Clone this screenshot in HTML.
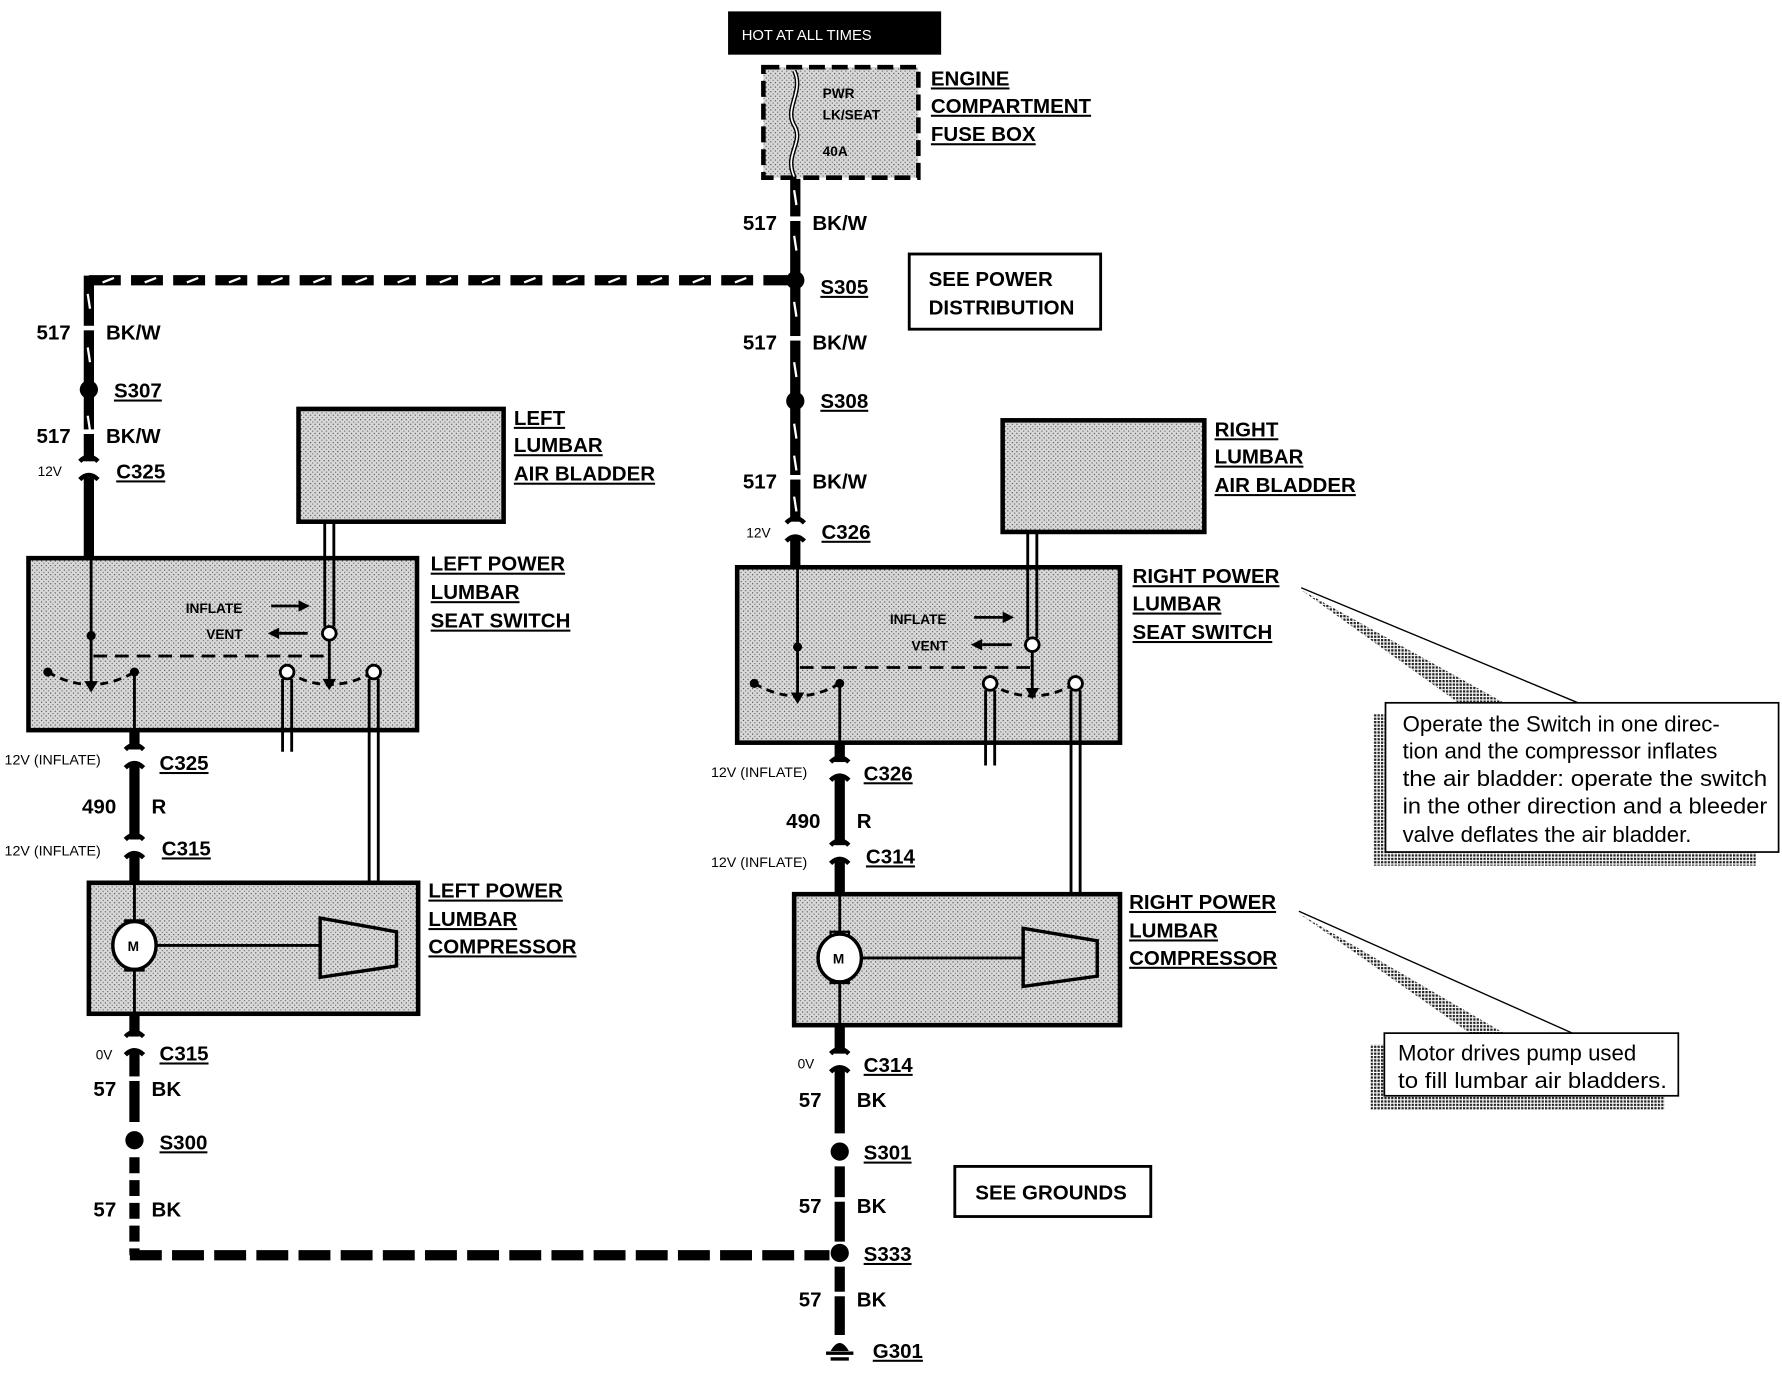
<!DOCTYPE html>
<html><head><meta charset="utf-8"><style>
html,body{margin:0;padding:0;background:#fff;}
svg{display:block;}
text{font-family:"Liberation Sans",Arial,sans-serif;}
.b{font-weight:bold;font-size:18px;}
.u{text-decoration:underline;}
.s{font-weight:bold;font-size:12px;}
.n{font-size:19.5px;}
</style></head><body>
<svg width="1782" height="1376" viewBox="0 0 1564 1208" preserveAspectRatio="none" xmlns="http://www.w3.org/2000/svg">
<defs>
<pattern id="g" width="4" height="4" patternUnits="userSpaceOnUse"><rect width="4" height="4" fill="#d8d8d8"/><rect width="1" height="1" fill="#444"/><rect x="2" y="2" width="1" height="1" fill="#666"/></pattern>
<pattern id="h" width="3" height="3" patternUnits="userSpaceOnUse"><rect width="3" height="3" fill="#fff"/><rect width="2" height="2" fill="#222"/></pattern>
<g id="conn"><path d="M-8,-8 Q0,-16 8,-8 M-8,8 Q0,0 8,8" fill="none" stroke="#000" stroke-width="4"/></g>
</defs>

<rect x="639" y="10" width="187" height="38" fill="#000"/>
<text x="651" y="35" fill="#fff" font-size="13">HOT AT ALL TIMES</text>

<rect x="670" y="59" width="136" height="97" fill="url(#g)" stroke="#000" stroke-width="4" stroke-dasharray="14 6"/>
<path d="M697,62 C706,80 688,95 697,110 C706,125 688,135 697,155" fill="none" stroke="#000" stroke-width="4"/>
<path d="M697,62 C706,80 688,95 697,110 C706,125 688,135 697,155" fill="none" stroke="#fff" stroke-width="1.5"/>
<text x="722" y="86" class="s">PWR</text><text x="722" y="105" class="s">LK/SEAT</text><text x="722" y="137" class="s">40A</text>
<text x="817" y="75" class="b u">ENGINE</text><text x="817" y="99" class="b u">COMPARTMENT</text><text x="817" y="124" class="b u">FUSE BOX</text>

<line x1="698" y1="157" x2="698" y2="497" stroke="#000" stroke-width="9"/>
<g stroke="#fff" stroke-width="2">
<line x1="697" y1="167" x2="699" y2="180"/><line x1="697" y1="207" x2="699" y2="220"/>
<line x1="697" y1="265" x2="699" y2="278"/><line x1="697" y1="318" x2="699" y2="331"/>
<line x1="697" y1="372" x2="699" y2="385"/><line x1="697" y1="400" x2="699" y2="413"/><line x1="697" y1="436" x2="699" y2="449"/>
</g>
<rect x="690" y="190" width="16" height="4" fill="#fff"/><rect x="690" y="295" width="16" height="4" fill="#fff"/><rect x="690" y="417" width="16" height="4" fill="#fff"/>
<text x="652" y="202" class="b">517</text><text x="713" y="202" class="b">BK/W</text>
<circle cx="698" cy="246" r="8"/><text x="720" y="258" class="b u">S305</text>
<rect x="798" y="223" width="168" height="66" fill="#fff" stroke="#000" stroke-width="2.5"/>
<text x="815" y="251" class="b">SEE POWER</text><text x="815" y="276" class="b">DISTRIBUTION</text>
<text x="652" y="307" class="b">517</text><text x="713" y="307" class="b">BK/W</text>
<circle cx="698" cy="352" r="8"/><text x="720" y="358" class="b u">S308</text>
<text x="652" y="429" class="b">517</text><text x="713" y="429" class="b">BK/W</text>
<rect x="688" y="458" width="20" height="14" fill="#fff"/><use href="#conn" x="698" y="467"/>
<text x="655" y="472" font-size="12">12V</text><text x="721" y="473" class="b u">C326</text>

<line x1="78" y1="246" x2="692" y2="246" stroke="#000" stroke-width="9" stroke-dasharray="28 9"/>
<g stroke="#fff" stroke-width="2"><path d="M90,248 l10,-4 M127,248 l10,-4 M164,248 l10,-4 M201,248 l10,-4 M238,248 l10,-4 M275,248 l10,-4 M312,248 l10,-4 M349,248 l10,-4 M386,248 l10,-4 M423,248 l10,-4 M460,248 l10,-4 M497,248 l10,-4 M534,248 l10,-4 M571,248 l10,-4 M608,248 l10,-4 M645,248 l10,-4"/></g>
<line x1="78" y1="242" x2="78" y2="490" stroke="#000" stroke-width="9"/>
<g stroke="#fff" stroke-width="2"><line x1="77" y1="258" x2="79" y2="271"/><line x1="77" y1="305" x2="79" y2="318"/><line x1="77" y1="365" x2="79" y2="378"/></g>
<rect x="70" y="286" width="16" height="4" fill="#fff"/><rect x="70" y="377" width="16" height="4" fill="#fff"/>
<text x="32" y="298" class="b">517</text><text x="93" y="298" class="b">BK/W</text>
<circle cx="78" cy="342" r="8"/><text x="100" y="349" class="b u">S307</text>
<text x="32" y="389" class="b">517</text><text x="93" y="389" class="b">BK/W</text>
<rect x="68" y="405" width="20" height="14" fill="#fff"/><use href="#conn" x="78" y="413"/>
<text x="33" y="418" font-size="12">12V</text><text x="102" y="420" class="b u">C325</text>

<rect x="262" y="359" width="180" height="99" fill="url(#g)" stroke="#000" stroke-width="4"/>
<text x="451" y="373" class="b u">LEFT</text><text x="451" y="397" class="b u">LUMBAR</text><text x="451" y="422" class="b u">AIR BLADDER</text>
<rect x="25" y="490" width="341" height="151" fill="url(#g)" stroke="#000" stroke-width="4"/>
<text x="378" y="501" class="b u">LEFT POWER</text><text x="378" y="526" class="b u">LUMBAR</text><text x="378" y="551" class="b u">SEAT SWITCH</text>
<g fill="none" stroke="#000" stroke-width="2.5">
<line x1="285" y1="458" x2="285" y2="550"/><line x1="293" y1="458" x2="293" y2="550"/>
<line x1="80" y1="490" x2="80" y2="600"/>
<line x1="82" y1="576" x2="289" y2="576" stroke-dasharray="12 7"/>
<line x1="289" y1="562" x2="289" y2="598"/>
<path d="M42,590 Q80,612 118,590" stroke-dasharray="7 5"/>
<path d="M252,590 Q289,612 328,590" stroke-dasharray="7 5"/>
<line x1="118" y1="590" x2="118" y2="641"/>
<line x1="248" y1="596" x2="248" y2="660"/><line x1="256" y1="596" x2="256" y2="660"/>
<line x1="324" y1="596" x2="324" y2="815"/><line x1="332" y1="596" x2="332" y2="815"/>
<line x1="238" y1="532" x2="262" y2="532"/><line x1="245" y1="556" x2="270" y2="556"/>
</g>
<path d="M262,527 L272,532 L262,537Z M245,551 L235,556 L245,561Z"/>
<circle cx="80" cy="558" r="4"/><circle cx="42" cy="590" r="4"/><circle cx="118" cy="590" r="4"/>
<path d="M74,598 L80,608 L86,598Z M283,596 L289,606 L295,596Z"/>
<circle cx="289" cy="556" r="6" fill="#fff" stroke="#000" stroke-width="2.5"/>
<circle cx="252" cy="590" r="6" fill="#fff" stroke="#000" stroke-width="2.5"/>
<circle cx="328" cy="590" r="6" fill="#fff" stroke="#000" stroke-width="2.5"/>
<text x="163" y="538" class="s">INFLATE</text><text x="181" y="561" class="s">VENT</text>
<line x1="118" y1="641" x2="118" y2="777" stroke="#000" stroke-width="9"/>
<rect x="108" y="658" width="20" height="14" fill="#fff"/><use href="#conn" x="118" y="666"/>
<rect x="108" y="737" width="20" height="14" fill="#fff"/><use href="#conn" x="118" y="745"/>
<text x="4" y="671" font-size="12.5">12V (INFLATE)</text><text x="140" y="676" class="b u">C325</text>
<text x="72" y="714" class="b">490</text><text x="133" y="714" class="b">R</text>
<text x="4" y="751" font-size="12.5">12V (INFLATE)</text><text x="142" y="751" class="b u">C315</text>
<rect x="78" y="775" width="289" height="115" fill="url(#g)" stroke="#000" stroke-width="4"/>
<text x="376" y="788" class="b u">LEFT POWER</text><text x="376" y="813" class="b u">LUMBAR</text><text x="376" y="837" class="b u">COMPRESSOR</text>
<line x1="118" y1="777" x2="118" y2="890" stroke="#000" stroke-width="2.5"/>
<rect x="110" y="808" width="16" height="5" fill="#fff" stroke="#000" stroke-width="2"/><rect x="110" y="847" width="16" height="5" fill="#fff" stroke="#000" stroke-width="2"/>
<ellipse cx="118" cy="830" rx="19" ry="21" fill="#fff" stroke="#000" stroke-width="3"/>
<text x="112" y="835" font-size="12" font-weight="bold">M</text>
<line x1="137" y1="830" x2="281" y2="830" stroke="#000" stroke-width="2.5"/>
<path d="M281,806 L348,818 L348,848 L281,858Z" fill="url(#g)" stroke="#000" stroke-width="3"/>
<line x1="118" y1="890" x2="118" y2="985" stroke="#000" stroke-width="9"/>
<rect x="108" y="910" width="20" height="14" fill="#fff"/><use href="#conn" x="118" y="918"/>
<text x="84" y="930" font-size="12">0V</text><text x="140" y="931" class="b u">C315</text>
<text x="82" y="962" class="b">57</text><text x="133" y="962" class="b">BK</text>
<rect x="110" y="945" width="16" height="4" fill="#fff"/>
<circle cx="118" cy="1001" r="8"/><text x="140" y="1009" class="b u">S300</text>
<line x1="118" y1="1016" x2="118" y2="1102" stroke="#000" stroke-width="9" stroke-dasharray="14 6"/>
<text x="82" y="1068" class="b">57</text><text x="133" y="1068" class="b">BK</text>
<line x1="114" y1="1102" x2="728" y2="1102" stroke="#000" stroke-width="9" stroke-dasharray="28 9"/>

<rect x="880" y="369" width="177" height="98" fill="url(#g)" stroke="#000" stroke-width="4"/>
<text x="1066" y="383" class="b u">RIGHT</text><text x="1066" y="407" class="b u">LUMBAR</text><text x="1066" y="432" class="b u">AIR BLADDER</text>
<rect x="647" y="498" width="336" height="154" fill="url(#g)" stroke="#000" stroke-width="4"/>
<text x="994" y="512" class="b u">RIGHT POWER</text><text x="994" y="536" class="b u">LUMBAR</text><text x="994" y="561" class="b u">SEAT SWITCH</text>
<g fill="none" stroke="#000" stroke-width="2.5">
<line x1="902" y1="467" x2="902" y2="560"/><line x1="910" y1="467" x2="910" y2="560"/>
<line x1="700" y1="498" x2="700" y2="610"/>
<line x1="702" y1="586" x2="906" y2="586" stroke-dasharray="12 7"/>
<line x1="906" y1="572" x2="906" y2="606"/>
<path d="M662,600 Q700,622 737,600" stroke-dasharray="7 5"/>
<path d="M868,600 Q906,622 944,600" stroke-dasharray="7 5"/>
<line x1="737" y1="600" x2="737" y2="652"/>
<line x1="865" y1="606" x2="865" y2="672"/><line x1="873" y1="606" x2="873" y2="672"/>
<line x1="940" y1="606" x2="940" y2="825"/><line x1="948" y1="606" x2="948" y2="825"/>
<line x1="855" y1="542" x2="880" y2="542"/><line x1="862" y1="566" x2="888" y2="566"/>
</g>
<path d="M880,537 L890,542 L880,547Z M862,561 L852,566 L862,571Z"/>
<circle cx="700" cy="568" r="4"/><circle cx="662" cy="600" r="4"/><circle cx="737" cy="600" r="4"/>
<path d="M694,608 L700,618 L706,608Z M900,604 L906,614 L912,604Z"/>
<circle cx="906" cy="566" r="6" fill="#fff" stroke="#000" stroke-width="2.5"/>
<circle cx="869" cy="600" r="6" fill="#fff" stroke="#000" stroke-width="2.5"/>
<circle cx="944" cy="600" r="6" fill="#fff" stroke="#000" stroke-width="2.5"/>
<text x="781" y="548" class="s">INFLATE</text><text x="800" y="571" class="s">VENT</text>
<line x1="737" y1="652" x2="737" y2="787" stroke="#000" stroke-width="9"/>
<rect x="727" y="669" width="20" height="14" fill="#fff"/><use href="#conn" x="737" y="677"/>
<rect x="727" y="742" width="20" height="14" fill="#fff"/><use href="#conn" x="737" y="750"/>
<text x="624" y="682" font-size="12.5">12V (INFLATE)</text><text x="758" y="685" class="b u">C326</text>
<text x="690" y="727" class="b">490</text><text x="752" y="727" class="b">R</text>
<text x="624" y="761" font-size="12.5">12V (INFLATE)</text><text x="760" y="758" class="b u">C314</text>
<rect x="697" y="785" width="286" height="115" fill="url(#g)" stroke="#000" stroke-width="4"/>
<text x="991" y="798" class="b u">RIGHT POWER</text><text x="991" y="823" class="b u">LUMBAR</text><text x="991" y="847" class="b u">COMPRESSOR</text>
<line x1="737" y1="787" x2="737" y2="900" stroke="#000" stroke-width="2.5"/>
<rect x="729" y="818" width="16" height="5" fill="#fff" stroke="#000" stroke-width="2"/><rect x="729" y="858" width="16" height="5" fill="#fff" stroke="#000" stroke-width="2"/>
<ellipse cx="737" cy="841" rx="19" ry="21" fill="#fff" stroke="#000" stroke-width="3"/>
<text x="731" y="846" font-size="12" font-weight="bold">M</text>
<line x1="756" y1="841" x2="898" y2="841" stroke="#000" stroke-width="2.5"/>
<path d="M898,815 L963,826 L963,857 L898,866Z" fill="url(#g)" stroke="#000" stroke-width="3"/>
<line x1="737" y1="900" x2="737" y2="995" stroke="#000" stroke-width="9"/>
<rect x="727" y="925" width="20" height="14" fill="#fff"/><use href="#conn" x="737" y="933"/>
<text x="700" y="938" font-size="12">0V</text><text x="758" y="941" class="b u">C314</text>
<text x="701" y="972" class="b">57</text><text x="752" y="972" class="b">BK</text>
<circle cx="737" cy="1011" r="8"/><text x="758" y="1018" class="b u">S301</text>
<line x1="737" y1="1024" x2="737" y2="1090" stroke="#000" stroke-width="9"/>
<rect x="729" y="1051" width="16" height="4" fill="#fff"/>
<text x="701" y="1065" class="b">57</text><text x="752" y="1065" class="b">BK</text>
<circle cx="737" cy="1100" r="8"/><text x="758" y="1107" class="b u">S333</text>
<line x1="737" y1="1112" x2="737" y2="1172" stroke="#000" stroke-width="9"/>
<rect x="729" y="1134" width="16" height="4" fill="#fff"/>
<text x="701" y="1147" class="b">57</text><text x="752" y="1147" class="b">BK</text>
<path d="M729,1186 Q737,1172 745,1186Z"/>
<line x1="725" y1="1188" x2="749" y2="1188" stroke="#000" stroke-width="3"/><line x1="729" y1="1193" x2="745" y2="1193" stroke="#000" stroke-width="3"/>
<text x="766" y="1192" class="b u">G301</text>
<rect x="838" y="1024" width="172" height="44" fill="#fff" stroke="#000" stroke-width="2.5"/>
<text x="856" y="1053" class="b">SEE GROUNDS</text>

<path d="M1142,518 L1320,617 L1280,617 Z" fill="url(#h)"/>
<line x1="1142" y1="516" x2="1385" y2="617" stroke="#000" stroke-width="1.2"/>
<rect x="1205" y="627" width="336" height="133" fill="url(#h)"/>
<rect x="1216" y="617" width="345" height="131" fill="#fff" stroke="#000" stroke-width="1.5"/>
<text x="1231" y="642" class="n">Operate the Switch in one direc-</text>
<text x="1231" y="666" class="n">tion and the compressor inflates</text>
<text x="1231" y="690" class="n" textLength="320" lengthAdjust="spacingAndGlyphs">the air bladder: operate the switch</text>
<text x="1231" y="714" class="n" textLength="320" lengthAdjust="spacingAndGlyphs">in the other direction and a bleeder</text>
<text x="1231" y="739" class="n">valve deflates the air bladder.</text>
<path d="M1140,802 L1320,907 L1290,907 Z" fill="url(#h)"/>
<line x1="1140" y1="800" x2="1380" y2="907" stroke="#000" stroke-width="1.2"/>
<rect x="1203" y="917" width="258" height="57" fill="url(#h)"/>
<rect x="1215" y="907" width="258" height="55" fill="#fff" stroke="#000" stroke-width="1.5"/>
<text x="1227" y="931" class="n">Motor drives pump used</text>
<text x="1227" y="955" class="n" textLength="236" lengthAdjust="spacingAndGlyphs">to fill lumbar air bladders.</text>
</svg>
</body></html>
